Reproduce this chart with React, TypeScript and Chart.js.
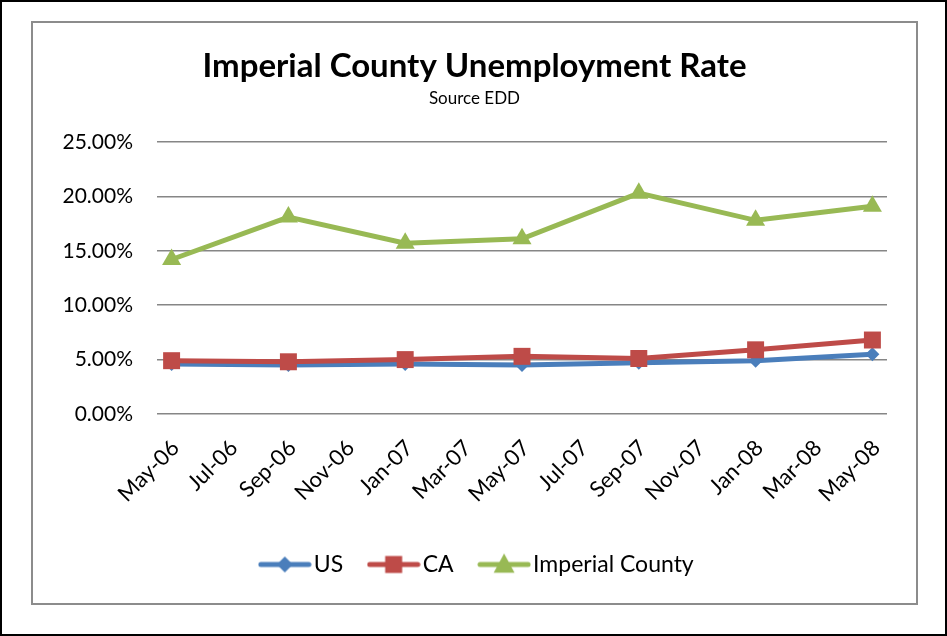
import React, { useEffect, useRef } from 'react';
import { Chart, registerables } from 'chart.js';

Chart.register(...registerables);

// Monthly category slots of the date axis (May-06 .. May-08)
const monthCategories = [
  'May-06', 'Jun-06', 'Jul-06', 'Aug-06', 'Sep-06', 'Oct-06', 'Nov-06', 'Dec-06',
  'Jan-07', 'Feb-07', 'Mar-07', 'Apr-07', 'May-07', 'Jun-07', 'Jul-07', 'Aug-07',
  'Sep-07', 'Oct-07', 'Nov-07', 'Dec-07', 'Jan-08', 'Feb-08', 'Mar-08', 'Apr-08', 'May-08',
];

// Tick labels shown on the x axis (every two months)
const tickLabels = [
  'May-06', 'Jul-06', 'Sep-06', 'Nov-06', 'Jan-07', 'Mar-07', 'May-07',
  'Jul-07', 'Sep-07', 'Nov-07', 'Jan-08', 'Mar-08', 'May-08',
];

// Dates of the observations
const obsDates = ['May-06', 'Sep-06', 'Jan-07', 'May-07', 'Sep-07', 'Jan-08', 'May-08'];

// Unemployment rates (%)
const usValues = [4.6, 4.5, 4.6, 4.5, 4.7, 4.9, 5.5];
const caValues = [4.9, 4.8, 5.0, 5.3, 5.1, 5.9, 6.8];
const imperialValues = [14.2, 18.1, 15.7, 16.1, 20.3, 17.8, 19.1];

const yTicks = [0, 5, 10, 15, 20, 25];

const FONT = 'Lato, "Open Sans", "Liberation Sans", sans-serif';

const US_COLOR = '#4A7EBB';
const CA_COLOR = '#BE4B48';
const IMP_COLOR = '#98B954';

function legendImage(color: string, style: string, radius: number) {
  const c = document.createElement('canvas');
  c.width = 54;
  c.height = 28;
  const ctx = c.getContext('2d')!;
  ctx.strokeStyle = color;
  ctx.lineWidth = 5;
  ctx.lineCap = 'round';
  ctx.beginPath();
  ctx.moveTo(3, 14);
  ctx.lineTo(51, 14);
  ctx.stroke();
  ctx.fillStyle = color;
  ctx.beginPath();
  const cx = 27, cy = 14;
  if (style === 'rectRot') {
    ctx.moveTo(cx, cy - radius);
    ctx.lineTo(cx + radius, cy);
    ctx.lineTo(cx, cy + radius);
    ctx.lineTo(cx - radius, cy);
  } else if (style === 'rect') {
    ctx.rect(cx - radius, cy - radius, radius * 2, radius * 2);
  } else {
    ctx.moveTo(cx, cy - radius);
    ctx.lineTo(cx + radius * 0.95, cy + radius * 0.75);
    ctx.lineTo(cx - radius * 0.95, cy + radius * 0.75);
  }
  ctx.closePath();
  ctx.fill();
  return c;
}

const legendShift = {
  id: 'legendShift',
  afterLayout(chart: any) {
    const lg = chart.legend;
    if (lg) {
      lg.left += 6;
      lg.right += 6;
    }
  },
};

export default function App() {
  const canvasRef = useRef<HTMLCanvasElement | null>(null);

  useEffect(() => {
    if (!canvasRef.current) return;
    const toPoints = (vals: number[]) => obsDates.map((d, i) => ({ x: d, y: vals[i] }));
    const legendImgs = [
      legendImage(US_COLOR, 'rectRot', 8),
      legendImage(CA_COLOR, 'rect', 8.5),
      legendImage(IMP_COLOR, 'triangle', 11),
    ];
    const chart = new Chart(canvasRef.current, {
      type: 'line',
      plugins: [legendShift],
      data: {
        labels: monthCategories,
        datasets: [
          {
            label: 'US',
            data: toPoints(usValues),
            borderColor: US_COLOR,
            backgroundColor: US_COLOR,
            borderWidth: 5,
            pointStyle: 'rectRot',
            pointRadius: 7,
            pointBorderWidth: 0,
            order: 3,
            tension: 0,
          },
          {
            label: 'CA',
            data: toPoints(caValues),
            borderColor: CA_COLOR,
            backgroundColor: CA_COLOR,
            borderWidth: 5,
            pointStyle: 'rect',
            pointRadius: 12,
            pointBorderWidth: 0,
            order: 2,
            tension: 0,
          },
          {
            label: 'Imperial County',
            data: toPoints(imperialValues),
            borderColor: IMP_COLOR,
            backgroundColor: IMP_COLOR,
            borderWidth: 5,
            pointStyle: 'triangle',
            pointRadius: 11,
            pointBorderWidth: 0,
            order: 1,
            tension: 0,
          },
        ],
      },
      options: {
        animation: false,
        responsive: false,
        maintainAspectRatio: false,
        layout: { padding: { left: 0, right: 0, top: 0, bottom: 17 } },
        plugins: {
          title: {
            display: true,
            text: 'Imperial County Unemployment Rate',
            color: '#000',
            font: { family: FONT, size: 33, weight: 'bold' },
            padding: { top: 24, bottom: 0 },
          },
          subtitle: {
            display: true,
            text: 'Source EDD',
            color: '#000',
            font: { family: FONT, size: 17 },
            padding: { top: 2, bottom: 33 },
          },
          legend: {
            display: true,
            position: 'bottom',
            labels: {
              usePointStyle: true,
              pointStyleWidth: 35,
              color: '#000',
              font: { family: FONT, size: 23 },
              padding: 33,
              generateLabels: (ch: any) =>
                ch.data.datasets.map((ds: any, i: number) => ({
                  text: ds.label,
                  pointStyle: legendImgs[i],
                  fillStyle: ds.borderColor,
                  strokeStyle: ds.borderColor,
                  lineWidth: 0,
                  hidden: false,
                  datasetIndex: i,
                  fontColor: '#000',
                })),
            },
          },
          tooltip: { enabled: false },
        },
        scales: {
          x: {
            type: 'category',
            offset: true,
            grid: { display: false, drawTicks: false },
            border: { display: false },
            ticks: {
              autoSkip: false,
              maxRotation: 45,
              minRotation: 45,
              padding: 21,
              labelOffset: 4,
              color: '#000',
              font: { family: FONT, size: 22 },
              callback: (_v: any, idx: number) =>
                tickLabels.includes(monthCategories[idx]) ? monthCategories[idx] : '',
            },
            afterFit: (scale: any) => {
              scale.height = 106;
            },
          },
          y: {
            min: 0,
            max: 25,
            afterBuildTicks: (scale: any) => {
              scale.ticks = yTicks.map((v) => ({ value: v }));
            },
            grid: { color: '#868686', lineWidth: 1.6, drawTicks: false },
            border: { display: false },
            ticks: {
              padding: 24,
              color: '#000',
              font: { family: FONT, size: 21 },
              callback: (v: any) => Number(v).toFixed(2) + '%',
            },
            afterFit: (scale: any) => {
              scale.width = 124;
            },
          },
          yRight: {
            position: 'right',
            min: 0,
            max: 25,
            grid: { display: false, drawTicks: false },
            border: { display: false },
            ticks: { display: false },
            afterFit: (scale: any) => {
              scale.width = 29;
            },
          },
        },
      },
    });
    return () => chart.destroy();
  }, []);

  return (
    <div
      style={{
        position: 'fixed',
        left: 0,
        top: 0,
        width: 947,
        height: 636,
        boxSizing: 'border-box',
        border: '2px solid #000',
        background: '#fff',
      }}
    >
      <div
        style={{
          position: 'absolute',
          left: 29,
          top: 19,
          width: 887,
          height: 584,
          boxSizing: 'border-box',
          border: '2px solid #8c8c8c',
          background: '#fff',
        }}
      >
        <canvas ref={canvasRef} width={883} height={580} style={{ display: 'block' }} />
      </div>
    </div>
  );
}
